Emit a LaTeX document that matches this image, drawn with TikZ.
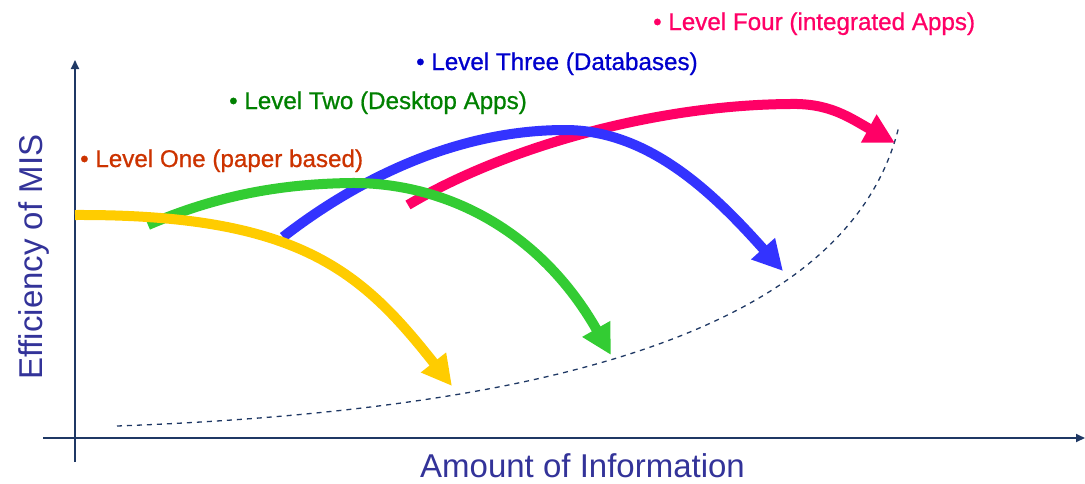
\documentclass[tikz,border=0pt]{standalone}
\usepackage{fontspec}
\setmainfont{Liberation Sans}
\newfontfamily\lvlfont[FakeBold=0.8]{Liberation Sans}
\usetikzlibrary{arrows.meta}
\definecolor{axisnavy}{RGB}{31,56,100}
\definecolor{axislabel}{RGB}{51,51,153}
\definecolor{lvloneText}{RGB}{204,51,0}
\definecolor{lvltwoText}{RGB}{0,128,0}
\definecolor{lvlthreeText}{RGB}{0,0,204}
\definecolor{lvlfourText}{RGB}{255,0,102}
\definecolor{cyellow}{RGB}{255,204,0}
\definecolor{cgreen}{RGB}{51,204,51}
\definecolor{cblue}{RGB}{51,51,255}
\definecolor{cpink}{RGB}{255,0,102}
\tikzset{
  axisline/.style={draw=axisnavy, line width=1.8pt, -{Triangle[length=9pt,width=8pt]}},
  axistext/.style={text=axislabel, font=\fontsize{33}{36}\selectfont, inner sep=0pt},
  lvltext/.style={font=\lvlfont\fontsize{24.2}{26}\selectfont, inner sep=0pt, anchor=base west},
  bigarrow/.style={line width=10pt, -{Triangle[length=30pt,width=30pt]}},
  trend/.style={draw=axisnavy, line width=1.3pt, dash pattern=on 5pt off 5pt}
}
\begin{document}
\begin{tikzpicture}[x=1pt,y=-1pt]
\useasboundingbox (0,0) rectangle (1085,483);
% axes
\coordinate (ybot) at (75,462);
\coordinate (ytop) at (75,60);
\coordinate (xleft) at (43,438);
\coordinate (xright) at (1085,438);
\draw[axisline] (ybot) -- (ytop);
\draw[axisline] (xleft) -- (xright);
% axis labels
\node[axistext, anchor=base west] (xlab) at (420,477) {Amount of Information};
\node[axistext, rotate=90, anchor=base west] (ylab) at (42,380) {Efficiency of MIS};
% trend line
\coordinate (t0) at (117,426);
\coordinate (t1) at (899,126);
\draw[trend] (t0) .. controls (550,410) and (850,330) .. (t1);
% curves (pink, blue, green, yellow order)
\coordinate (p0) at (408,205);
\coordinate (p1) at (790,104);
\coordinate (p2) at (895,143);
\draw[bigarrow, draw=cpink] (p0) .. controls (500,150) and (650,105) .. (p1) .. controls (830,103) and (850,118) .. (p2);
\coordinate (b0) at (283,237);
\coordinate (b1) at (565,130);
\coordinate (b2) at (783,271);
\draw[bigarrow, draw=cblue] (b0) .. controls (350,185) and (450,130) .. (b1) .. controls (650,130) and (715,195) .. (b2);
\coordinate (g0) at (148,225);
\coordinate (g1) at (350,183);
\coordinate (g2) at (611,355);
\draw[bigarrow, draw=cgreen] (g0) .. controls (225,192) and (290,184) .. (g1) .. controls (445,182) and (540,230) .. (g2);
\coordinate (y0) at (75,215);
\coordinate (y1) at (452,386);
\draw[bigarrow, draw=cyellow] (y0) .. controls (300,214) and (362,272) .. (y1);
% labels
\node[lvltext, text=lvloneText] (l1) at (80,167) {• Level One (paper based)};
\node[lvltext, text=lvltwoText] (l2) at (229,109) {• Level Two (Desktop Apps)};
\node[lvltext, text=lvlthreeText] (l3) at (416,70) {• Level Three (Databases)};
\node[lvltext, text=lvlfourText] (l4) at (653,30) {• Level Four (integrated Apps)};
\end{tikzpicture}
\end{document}
